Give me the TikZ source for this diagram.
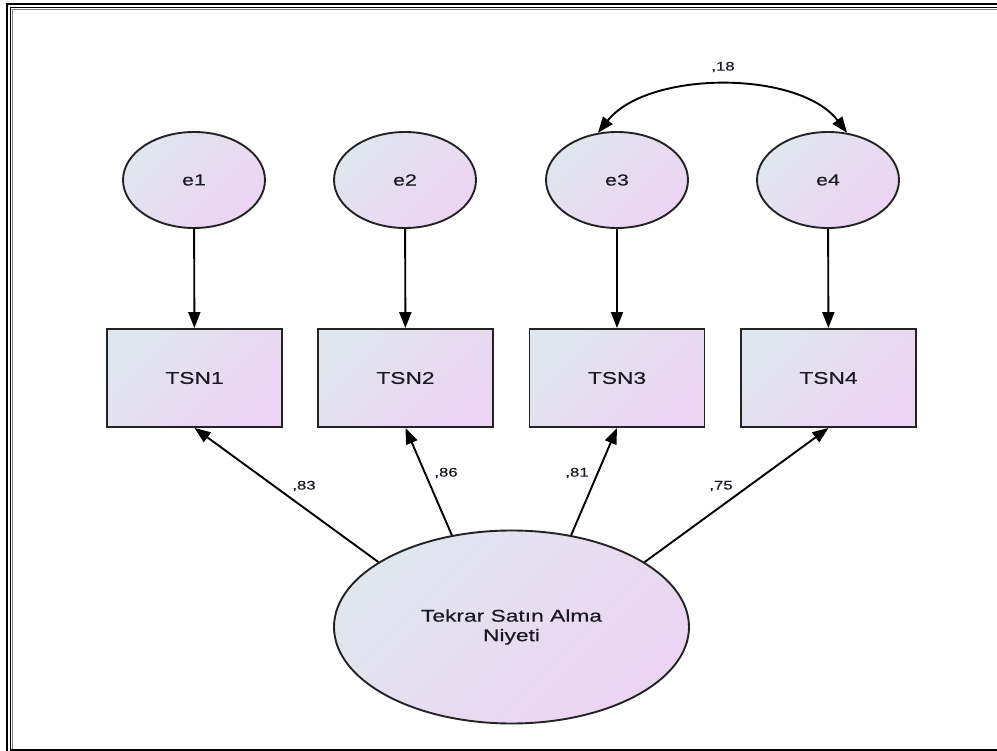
\documentclass[tikz,border=0pt]{standalone}
\usepackage{fontspec}
\setmainfont{Liberation Sans}[FakeStretch=1.34,FakeBold=0.35]
\usetikzlibrary{arrows.meta,shapes.geometric}
\definecolor{fillA}{RGB}{224,230,238}
\definecolor{fillB}{RGB}{236,212,243}
\definecolor{ink}{RGB}{25,25,35}
\definecolor{edgegray}{RGB}{35,35,35}
\begin{document}
\begin{tikzpicture}[x=1pt,y=-1pt,
  gradfill/.style={left color=fillA,right color=fillB,shading angle=45},
  errvar/.style={ellipse,draw=edgegray,line width=1.9pt,gradfill,
    minimum width=142pt,minimum height=96pt,inner sep=0pt,
    font=\fontsize{16}{19}\selectfont,text=ink},
  latentvar/.style={ellipse,draw=edgegray,line width=1.9pt,gradfill,
    minimum width=355pt,minimum height=193pt,inner sep=0pt,align=center,
    font=\fontsize{17}{19.5}\selectfont,text=ink},
  obsvar/.style={rectangle,draw=edgegray,line width=1.9pt,gradfill,
    minimum width=175pt,minimum height=98pt,inner sep=0pt,
    font=\fontsize{17}{19}\selectfont,text=ink},
  regarrow/.style={-{Triangle[length=16pt,width=12pt]},line width=1.9pt,draw=black},
  covarrow/.style={{Triangle[length=16pt,width=12pt]}-{Triangle[length=16pt,width=12pt]},line width=1.9pt,draw=black},
  coef/.style={font=\fontsize{12.5}{14}\selectfont,text=ink,inner sep=0pt}
]
\useasboundingbox (0,0) rectangle (997,751);
\clip (0,0) rectangle (997,751);

% double page frame (running off the right and bottom edges)
\draw[line width=2.5pt] (7,4) rectangle (1020,770);
\draw[line width=1.6pt] (10.5,7.5) rectangle (1012,750);
\draw[gray,line width=1pt] (12.4,749) -- (12.4,9.4) -- (1010,9.4);

% error terms
\node[errvar] (e1) at (194,180) {e1};
\node[errvar] (e2) at (405,180) {e2};
\node[errvar] (e3) at (617,180) {e3};
\node[errvar] (e4) at (828,180) {e4};

% observed indicators
\node[obsvar] (t1) at (194.5,378) {TSN1};
\node[obsvar] (t2) at (405.5,378) {TSN2};
\node[obsvar] (t3) at (617,378) {TSN3};
\node[obsvar] (t4) at (828.5,378) {TSN4};

% latent factor
\node[latentvar] (f) at (511.5,627) {Tekrar Satın Alma\\Niyeti};

% error paths
\draw[regarrow] (e1) -- (t1);
\draw[regarrow] (e2) -- (t2);
\draw[regarrow] (e3) -- (t3);
\draw[regarrow] (e4) -- (t4);

% factor loadings
\draw[regarrow] (f.154.2) -- (t1.south);
\draw[regarrow] (f.123.7) -- (t2.south);
\draw[regarrow] (f.57.1) -- (t3.south);
\draw[regarrow] (f.26) -- (t4.south);

\node[coef] (l1) at (304,486) {,83};
\node[coef] (l2) at (446,473) {,86};
\node[coef] (l3) at (577,473) {,81};
\node[coef] (l4) at (721,486) {,75};

% error covariance
\draw[covarrow] (e3.112) .. controls (648,70) and (799,70) .. (e4.68);
\node[coef] (c34) at (723,67) {,18};
\end{tikzpicture}
\end{document}
